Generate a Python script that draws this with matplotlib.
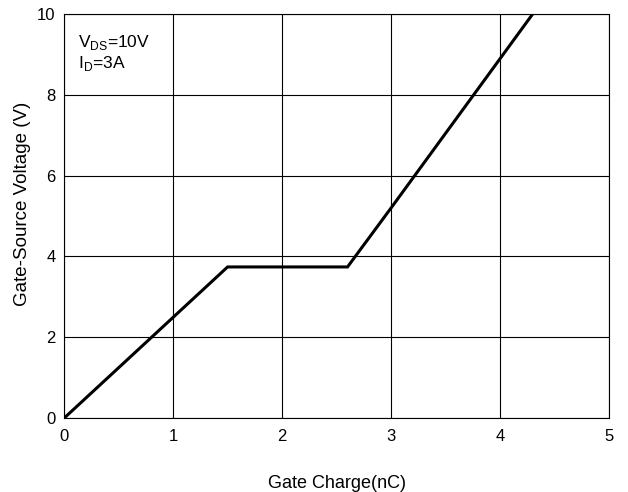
import matplotlib.pyplot as plt

plt.rcParams['font.family'] = ['Liberation Sans', 'DejaVu Sans']
plt.rcParams['mathtext.fontset'] = 'custom'
plt.rcParams['mathtext.rm'] = 'Liberation Sans'

# gate charge curve (nC, V)
qg = [0.0, 1.5, 2.6, 3.0, 4.3]
vgs = [0.0, 3.74, 3.74, 5.2, 10.0]

xticks = [0, 1, 2, 3, 4, 5]
yticks = [0, 2, 4, 6, 8, 10]

fig = plt.figure(figsize=(6.28, 4.92), dpi=100)
ax = fig.add_axes([0.102, 0.150, 0.868, 0.822])

ax.plot(qg, vgs, color='black', lw=2.2, solid_joinstyle='miter', zorder=3)

ax.set_xlim(0, 5)
ax.set_ylim(0, 10)
ax.set_xticks(xticks)
ax.set_yticks(yticks)
ax.grid(True, color='black', lw=0.8)
ax.tick_params(length=0, labelsize=12)
ax.tick_params(axis='x', pad=8)
ax.tick_params(axis='y', pad=6)
for s in ax.spines.values():
    s.set_linewidth(0.8)

ax.set_xlabel('Gate Charge(nC)', fontsize=13, labelpad=22)
ax.set_ylabel('Gate-Source Voltage (V)', fontsize=13.5)
ax.yaxis.set_label_coords(-0.06, 0.53)

ax.text(0.13, 9.28, r'V$_{\mathrm{DS}}$=10V', fontsize=12.5, va='center')
ax.text(0.13, 8.76, r'I$_{\mathrm{D}}$=3A', fontsize=12.5, va='center')

plt.savefig('out.png', dpi=100)
